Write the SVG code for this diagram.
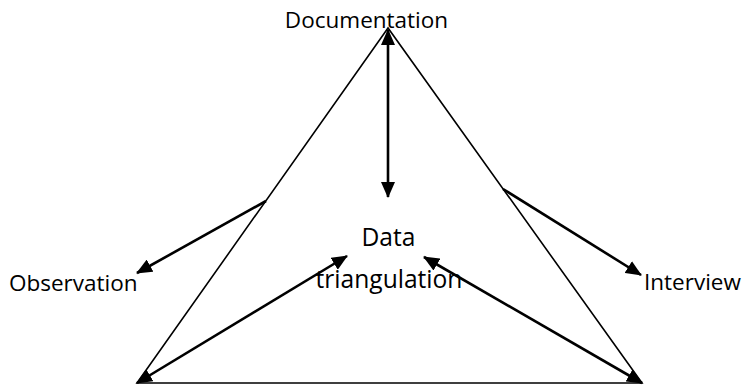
<svg xmlns="http://www.w3.org/2000/svg" width="745" height="385" viewBox="0 0 745 385">
<style>
text{font-family:"Open Sans","Liberation Sans",sans-serif;font-size:22.5px;fill:#000}
.big{font-size:24.6px}
.tri{fill:none;stroke:#000;stroke-width:1.6}
.arr{fill:none;stroke:#000;stroke-width:2.6}
</style>
<defs>
<marker id="ah" markerUnits="userSpaceOnUse" markerWidth="16" markerHeight="14" refX="15" refY="7" orient="auto-start-reverse" viewBox="0 0 16 14">
<path d="M0,0 L16,7 L0,14 Z" fill="#000"/>
</marker>
</defs>
<rect width="745" height="385" fill="#fff"/>
<g id="triangle">
<polygon class="tri" points="388,28 137,383 642,383"/>
</g>
<g id="connectors">
<line class="arr" x1="388" y1="30" x2="388" y2="197" marker-start="url(#ah)" marker-end="url(#ah)"/>
<line class="arr" x1="266" y1="201" x2="137" y2="273" marker-end="url(#ah)"/>
<line class="arr" x1="503" y1="189" x2="641" y2="275" marker-end="url(#ah)"/>
<line class="arr" x1="137" y1="383" x2="347" y2="256" marker-start="url(#ah)" marker-end="url(#ah)"/>
<line class="arr" x1="642" y1="383" x2="424" y2="257" marker-start="url(#ah)" marker-end="url(#ah)"/>
</g>
<g id="documentation"><text x="366.5" y="28" text-anchor="middle">Documentation</text></g>
<g id="observation"><text x="9" y="291">Observation</text></g>
<g id="interview"><text x="644" y="290">Interview</text></g>
<g id="data-triangulation">
<text class="big" x="388.5" y="246" text-anchor="middle">Data</text>
<text class="big" x="389" y="288" text-anchor="middle">triangulation</text>
</g>
</svg>
